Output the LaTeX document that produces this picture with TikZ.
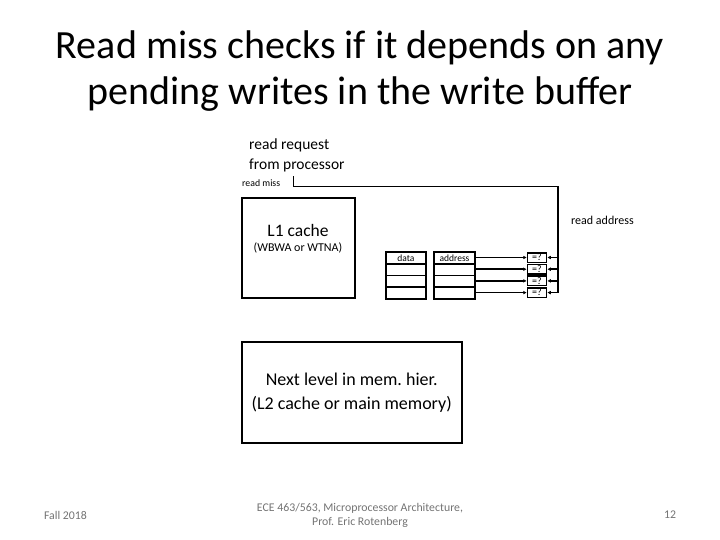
\documentclass[tikz,border=0pt]{standalone}
\usepackage{fontspec}
\setmainfont{Carlito}
\usetikzlibrary{arrows.meta}
\begin{document}
\begin{tikzpicture}[x=1pt,y=-1pt,
  box/.style={draw,line width=2pt,inner sep=0pt},
  cell/.style={draw,line width=1.8pt,minimum width=40pt,minimum height=11.6pt,inner sep=0pt,font=\fontsize{9}{10}\selectfont},
  cmp/.style={draw,line width=1.5pt,minimum width=19pt,minimum height=9.5pt,inner sep=0pt,font=\fontsize{10}{10}\selectfont},
  wire/.style={line width=1.5pt},
  arr/.style={wire,-{Latex[length=3.5pt,width=3.8pt]}},
  foot/.style={text=black!55,font=\fontsize{11.8}{14}\selectfont,align=center}]
\useasboundingbox (0,0) rectangle (720,540);
% title
\node[font=\fontsize{40}{46.5}\selectfont,align=center] (title) at (360,71)
  {Read miss checks if it depends on any\\pending writes in the write buffer};
% request text
\node[anchor=west,font=\fontsize{15.5}{20}\selectfont,align=left,inner sep=0pt] (req) at (249,155)
  {read request\\from processor};
\node[anchor=west,font=\fontsize{9.8}{10}\selectfont,inner sep=0pt] (miss) at (242,183) {read miss};
\node[anchor=west,font=\fontsize{12}{12}\selectfont,inner sep=0pt] (raddr) at (571,220) {read address};
% L1 cache
\node[box,minimum width=113pt,minimum height=100pt] (l1) at (298.5,248) {};
\node[font=\fontsize{17.5}{18}\selectfont] (l1t) at (298,230.5) {L1 cache};
\node[font=\fontsize{12}{12}\selectfont] (l1s) at (298,247.5) {(WBWA or WTNA)};
% next level
\node[box,minimum width=220pt,minimum height=101pt,align=center,font=\fontsize{18}{24}\selectfont] (l2) at (351.7,392.8)
  {Next level in mem.\ hier.\\(L2 cache or main memory)};
% write buffer
\foreach \i/\y in {1/258,2/269.6,3/281.2,4/292.8}{
  \node[cell] (d\i) at (406,\y) {};
  \node[cell,minimum width=41pt] (a\i) at (454.5,\y) {};
}
\node[font=\fontsize{9.5}{10}\selectfont] at (d1) {data};
\node[font=\fontsize{9.5}{10}\selectfont] at (a1) {address};
\foreach \i/\y in {1/257.5,2/269.2,3/280.9,4/292.6}{
  \node[cmp] (c\i) at (537,\y) {=?};
  \coordinate (t\i) at (558,\y);
}
% request path
\coordinate (r0) at (293.3,176.5);
\coordinate (r1) at (293.3,186.7);
\coordinate (r2) at (558,186.7);
\draw[wire] (r0) -- (r1) -- (r2) -- (t4);
\foreach \i in {1,2,3,4}{
  \draw[arr] (t\i) -- (c\i.east);
  \draw[arr] (a\i.east |- c\i) -- (c\i.west);
}
% footer
\node[foot] (f1) at (65.5,515) {Fall 2018};
\node[foot] (f2) at (360,515) {ECE 463/563, Microprocessor Architecture,\\Prof. Eric Rotenberg};
\node[foot] (f3) at (670,515) {12};
\end{tikzpicture}
\end{document}
